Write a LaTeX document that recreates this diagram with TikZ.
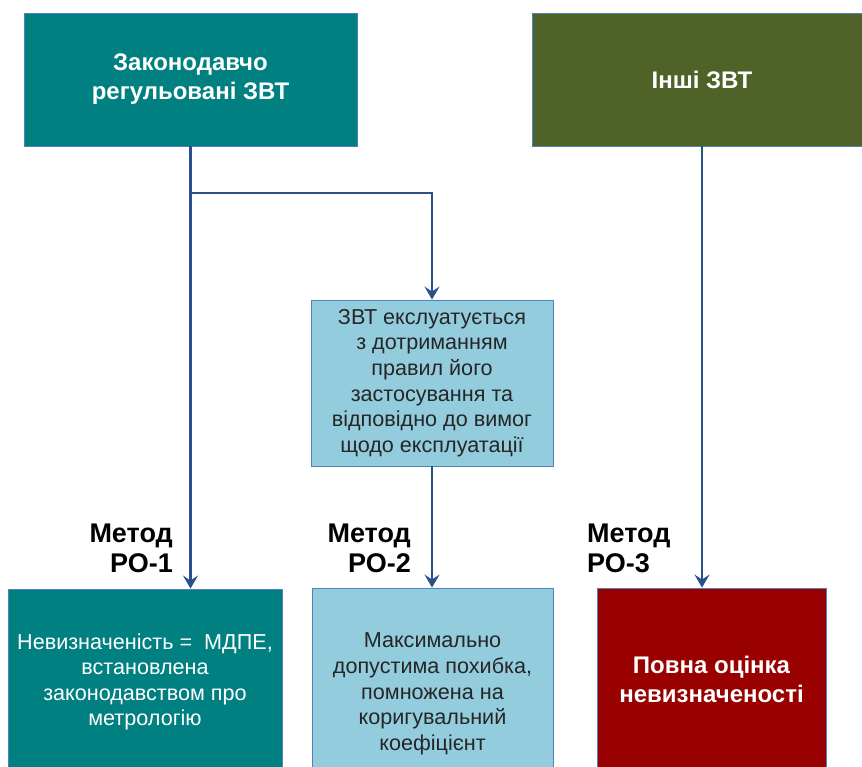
\documentclass[tikz,border=0pt]{standalone}
\usepackage{fontspec}
\setmainfont{Liberation Sans}
\usetikzlibrary{arrows.meta}
\definecolor{tealbox}{RGB}{0,128,128}
\definecolor{olivebox}{RGB}{79,98,40}
\definecolor{lightbox}{RGB}{147,205,221}
\definecolor{redbox}{RGB}{153,0,0}
\definecolor{boxline}{RGB}{79,129,189}
\definecolor{arrowblue}{RGB}{42,80,140}
\definecolor{darktext}{RGB}{38,38,38}
\begin{document}
\begin{tikzpicture}[x=1pt,y=-1pt,
  box/.style={draw=boxline, line width=0.9pt, inner sep=0pt, align=center},
  bigbold/.style={font=\bfseries\fontsize{24}{29}\selectfont},
  bodytext/.style={font=\fontsize{21.6}{25.6}\selectfont},
  lbl/.style={font=\bfseries\fontsize{27}{30}\selectfont, inner sep=0pt},
  arr/.style={draw=arrowblue, line width=2.2pt, -{Stealth[length=13pt,width=15pt,inset=5pt]}}]
\useasboundingbox (0,0) rectangle (862,767);

\node[box, fill=tealbox, text=white, bigbold, minimum width=333pt, minimum height=133pt] (A) at (190.5,79.5) {Законодавчо\\регульовані ЗВТ};
\node[box, fill=olivebox, text=white, bigbold, minimum width=340pt, minimum height=133pt] (B) at (702,79.5) {Інші ЗВТ};
\node[box, fill=lightbox, text=darktext, bodytext, minimum width=242pt, minimum height=166pt] (D) at (432,383) {ЗВТ екслуатується\\з дотриманням\\правил його\\застосування та\\відповідно до вимог\\щодо експлуатації};
\node[box, fill=tealbox, text=white, bodytext, minimum width=274pt, minimum height=186pt] (E) at (145,682) {Невизначеність =\ \ МДПЕ,\\встановлена\\законодавством про\\метрологію};
\node[box, fill=lightbox, text=darktext, bodytext, minimum width=241pt, minimum height=212pt] (F) at (432.5,694) {Максимально\\допустима похибка,\\помножена на\\коригувальний\\коефіцієнт};
\node[box, fill=redbox, text=white, bigbold, minimum width=229pt, minimum height=182pt] (G) at (711.5,679) {Повна оцінка\\невизначеності};

\node[lbl, anchor=east, align=right] (L1) at (173,548) {Метод\\РО-1};
\node[lbl, anchor=east, align=right] (L2) at (411,548) {Метод\\РО-2};
\node[lbl, anchor=west, align=left] (L3) at (587,548) {Метод\\РО-3};

\coordinate (br) at (190,193);
\draw[arr] (A.south) -- (A.south |- E.north);
\draw[arr] (br) -| (D.north);
\draw[arr] (D.south) -- (D.south |- F.north);
\draw[arr] (B.south) -- (B.south |- G.north);
\end{tikzpicture}
\end{document}
